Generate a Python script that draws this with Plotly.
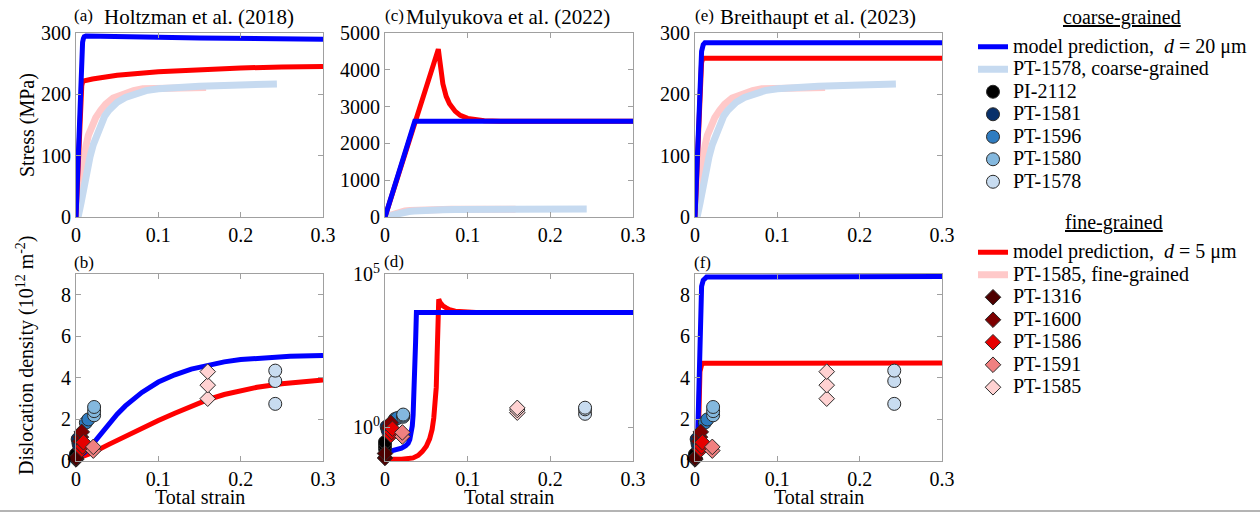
import plotly.graph_objects as go

W, H = 1260, 514
SERIF = "Liberation Serif, Times New Roman, Times, Nimbus Roman, DejaVu Serif, serif"

# ---------------- stress–strain curves (MPa) ----------------
# experimental curves (shared by the three upper panels)
exp_cg_strain = [0.0, 0.003, 0.006, 0.009, 0.013, 0.017, 0.021, 0.025, 0.029, 0.035, 0.04,
                 0.05, 0.06, 0.07, 0.085, 0.1, 0.12, 0.15, 0.19, 0.22, 0.244]
exp_cg_stress = [0, 3, 22, 45, 72, 98, 118, 133, 150, 165, 174,
                 187, 195, 200, 206, 209, 211, 213, 215, 217, 217]
exp_fg_strain = [0.0, 0.002, 0.004, 0.006, 0.0085, 0.012, 0.015, 0.0186, 0.024, 0.03, 0.036,
                 0.045, 0.057, 0.07, 0.081, 0.1, 0.12, 0.14, 0.158]
exp_fg_stress = [0, 15, 40, 62, 92, 115, 133, 147, 162, 174, 184,
                 194, 201, 206, 209, 210, 211, 211, 211]

# (a) Holtzman et al. (2018) model
holtz_cg_strain = [0, 0.002, 0.004, 0.006, 0.007, 0.008, 0.009, 0.01, 0.012, 0.02, 0.05,
                   0.1, 0.15, 0.2, 0.25, 0.3]
holtz_cg_stress = [0, 80, 165, 245, 272, 285, 291, 294, 295, 295, 294,
                   293, 292, 291, 290.5, 290]
holtz_fg_strain = [0, 0.002, 0.004, 0.006, 0.007, 0.008, 0.01, 0.02, 0.05, 0.1,
                   0.15, 0.2, 0.25, 0.3]
holtz_fg_stress = [0, 75, 150, 200, 214, 220, 222, 225, 231, 237,
                   240.5, 243, 244.5, 245.5]

# (c) Mulyukova et al. (2022) model
muly_cg_strain = [0, 0.036, 0.3]
muly_cg_stress = [0, 2600, 2600]
muly_fg_strain = [0, 0.036, 0.05, 0.0645, 0.066, 0.068, 0.07, 0.074, 0.078, 0.085,
                  0.091, 0.1, 0.11, 0.12, 0.14, 0.3]
muly_fg_stress = [0, 2600, 3550, 4560, 4300, 3930, 3620, 3280, 3080, 2870,
                  2760, 2680, 2640, 2615, 2603, 2600]

# (e) Breithaupt et al. (2023) model
breit_cg_strain = [0, 0.002, 0.004, 0.006, 0.008, 0.01, 0.012, 0.3]
breit_cg_stress = [0, 75, 160, 235, 270, 281, 284, 284]
breit_fg_strain = [0, 0.002, 0.004, 0.006, 0.008, 0.0095, 0.3]
breit_fg_stress = [0, 70, 150, 225, 252, 259, 259]

# ---------------- dislocation density (10^12 m^-2) ----------------
holtz_cg_rho_strain = [0, 0.01, 0.02, 0.03, 0.04, 0.05, 0.06, 0.07, 0.08, 0.1, 0.12,
                       0.14, 0.16, 0.18, 0.2, 0.23, 0.26, 0.3]
holtz_cg_rho = [0.15, 0.4, 0.8, 1.3, 1.8, 2.25, 2.65, 3.0, 3.3, 3.8, 4.15,
                4.42, 4.62, 4.77, 4.88, 4.98, 5.04, 5.08]
holtz_fg_rho_strain = [0, 0.02, 0.04, 0.06, 0.08, 0.1, 0.12, 0.14, 0.16, 0.18, 0.2,
                       0.22, 0.25, 0.28, 0.3]
holtz_fg_rho = [0.1, 0.4, 0.8, 1.2, 1.6, 1.95, 2.3, 2.65, 2.95, 3.2, 3.4,
                3.55, 3.72, 3.84, 3.9]

muly_cg_rho_strain = [0, 0.01, 0.02, 0.025, 0.028, 0.03, 0.032, 0.033, 0.034, 0.035,
                      0.036, 0.037, 0.038, 0.3]
muly_cg_rho = [0.15, 0.17, 0.21, 0.25, 0.3, 0.4, 0.7, 1.1, 2.5, 10,
               60, 600, 5500, 5500]
muly_fg_rho_strain = [0, 0.02, 0.034, 0.04, 0.045, 0.05, 0.054, 0.057, 0.059, 0.061,
                      0.062, 0.063, 0.064, 0.065, 0.0665, 0.068, 0.07, 0.074, 0.078,
                      0.085, 0.094, 0.11, 0.3]
muly_fg_rho = [0.09, 0.09, 0.1, 0.12, 0.16, 0.24, 0.42, 0.85, 2, 9,
               20, 200, 3500, 15000, 12000, 10300, 9100, 7800, 6800,
               6100, 5750, 5550, 5500]

breit_cg_rho_strain = [0, 0.002, 0.003, 0.004, 0.005, 0.006, 0.008, 0.01, 0.014, 0.3]
breit_cg_rho = [0.15, 0.3, 0.8, 2.5, 5.5, 7.5, 8.4, 8.7, 8.85, 8.88]
breit_fg_rho_strain = [0, 0.003, 0.004, 0.005, 0.006, 0.008, 0.01, 0.3]
breit_fg_rho = [0.1, 0.3, 1.0, 3.0, 4.3, 4.62, 4.7, 4.72]

# measured samples: (name, strain, density, colour)
coarse_samples = [
    ("PI-2112", [0.0, 0.0, 0.0], [0.2, 0.26, 0.33], "#000000"),
    ("PT-1581", [0.002, 0.003, 0.004], [1.05, 0.85, 0.7], "#08306b"),
    ("PT-1596", [0.012, 0.015], [1.85, 2.0], "#2f7cc0"),
    ("PT-1580", [0.022, 0.022, 0.022], [2.2, 2.4, 2.6], "#84b8de"),
    ("PT-1578", [0.242, 0.242, 0.242], [2.75, 3.85, 4.35], "#c8dcf0"),
]
fine_samples = [
    ("PT-1316", [0.0, 0.0, 0.0], [0.075, 0.1, 0.14], "#4d0000"),
    ("PT-1600", [0.005, 0.006, 0.007], [0.95, 1.15, 1.4], "#7d0000"),
    ("PT-1586", [0.007, 0.008, 0.009], [0.55, 0.7, 0.9], "#e60000"),
    ("PT-1591", [0.021, 0.021], [0.5, 0.68], "#f08080"),
    ("PT-1585", [0.16, 0.16, 0.16], [3.0, 3.65, 4.3], "#ffd2d2"),
]

BLUE, RED = "#0000ff", "#ff0000"
EXP_BLUE, EXP_PINK = "#c6daf0", "#ffc9c9"

LABEL_CG_MODEL = "model prediction,  <i>d</i> = 20 μm"
LABEL_FG_MODEL = "model prediction,  <i>d</i> = 5 μm"


def lg(text):
    return f'<span style="font-size:20px">{text}</span>'


fig = go.Figure()

# panel axes: (x-axis id, y-axis id)
top_panels = [("x", "y"), ("x2", "y2"), ("x3", "y3")]
bot_panels = [("x4", "y4"), ("x5", "y5"), ("x6", "y6")]

stress_models = [
    (holtz_cg_strain, holtz_cg_stress, holtz_fg_strain, holtz_fg_stress),
    (muly_cg_strain, muly_cg_stress, muly_fg_strain, muly_fg_stress),
    (breit_cg_strain, breit_cg_stress, breit_fg_strain, breit_fg_stress),
]
rho_models = [
    (holtz_cg_rho_strain, holtz_cg_rho, holtz_fg_rho_strain, holtz_fg_rho),
    (muly_cg_rho_strain, muly_cg_rho, muly_fg_rho_strain, muly_fg_rho),
    (breit_cg_rho_strain, breit_cg_rho, breit_fg_rho_strain, breit_fg_rho),
]

for i, ((xa, ya), (cgx, cgy, fgx, fgy)) in enumerate(zip(top_panels, stress_models)):
    first = i == 0
    fig.add_trace(go.Scatter(x=exp_fg_strain, y=exp_fg_stress, mode="lines",
                             line=dict(color=EXP_PINK, width=7), xaxis=xa, yaxis=ya,
                             name=lg("PT-1585, fine-grained"), legend="legend2",
                             legendgroup="expfg", showlegend=first, legendrank=2))
    fig.add_trace(go.Scatter(x=exp_cg_strain, y=exp_cg_stress, mode="lines",
                             line=dict(color=EXP_BLUE, width=7), xaxis=xa, yaxis=ya,
                             name=lg("PT-1578, coarse-grained"), legend="legend",
                             legendgroup="expcg", showlegend=first, legendrank=2))
    fig.add_trace(go.Scatter(x=fgx, y=fgy, mode="lines", line=dict(color=RED, width=5),
                             xaxis=xa, yaxis=ya, name=lg(LABEL_FG_MODEL), legend="legend2",
                             legendgroup="modfg", showlegend=first, legendrank=1))
    fig.add_trace(go.Scatter(x=cgx, y=cgy, mode="lines", line=dict(color=BLUE, width=5),
                             xaxis=xa, yaxis=ya, name=lg(LABEL_CG_MODEL), legend="legend",
                             legendgroup="modcg", showlegend=first, legendrank=1))

for (xa, ya), (cgx, cgy, fgx, fgy) in zip(bot_panels, rho_models):
    fig.add_trace(go.Scatter(x=fgx, y=fgy, mode="lines", line=dict(color=RED, width=5),
                             xaxis=xa, yaxis=ya, legendgroup="modfg", showlegend=False))
    fig.add_trace(go.Scatter(x=cgx, y=cgy, mode="lines", line=dict(color=BLUE, width=5),
                             xaxis=xa, yaxis=ya, legendgroup="modcg", showlegend=False))

for i, (xa, ya) in enumerate(bot_panels):
    first = i == 0
    for k, (name, sx, sy, col) in enumerate(coarse_samples):
        fig.add_trace(go.Scatter(x=sx, y=sy, mode="markers", xaxis=xa, yaxis=ya,
                                 marker=dict(symbol="circle", size=13, color=col,
                                             line=dict(color="#2a2a2a", width=1)),
                                 cliponaxis=False, name=lg(name), legend="legend",
                                 legendgroup=name, showlegend=first, legendrank=3 + k))
    for k, (name, sx, sy, col) in enumerate(fine_samples):
        fig.add_trace(go.Scatter(x=sx, y=sy, mode="markers", xaxis=xa, yaxis=ya,
                                 marker=dict(symbol="diamond", size=12, color=col,
                                             line=dict(color="#2a2a2a", width=1)),
                                 cliponaxis=False, name=lg(name), legend="legend2",
                                 legendgroup=name, showlegend=first, legendrank=3 + k))


def px_x(p):
    return p / W


def px_y(p):
    return 1 - p / H


col_px = [(76, 323), (385, 633), (695, 942)]
top_px = (33, 217)
bot_px = (274, 461)

axis_common = dict(showline=True, linecolor="#a0a0a0", linewidth=1, mirror="ticks",
                   ticks="inside", ticklen=5, tickcolor="#a0a0a0", showgrid=False,
                   zeroline=False, tickfont=dict(family=SERIF, size=20, color="black"))

xt = dict(range=[0, 0.3], tickvals=[0, 0.1, 0.2, 0.3], ticktext=["0", "0.1", "0.2", "0.3"])

layout_axes = {}
for j, (l, r) in enumerate(col_px):
    top_id = "" if j == 0 else str(j + 1)
    bot_id = str(j + 4)
    layout_axes[f"xaxis{top_id}"] = dict(domain=[px_x(l), px_x(r)], anchor=f"y{top_id}", **xt, **axis_common)
    layout_axes[f"xaxis{bot_id}"] = dict(domain=[px_x(l), px_x(r)], anchor=f"y{bot_id}", **xt, **axis_common)

top_dom = [px_y(top_px[1]), px_y(top_px[0])]
bot_dom = [px_y(bot_px[1]), px_y(bot_px[0])]

layout_axes["yaxis"] = dict(domain=top_dom, anchor="x", range=[0, 300],
                            tickvals=[0, 100, 200, 300], **axis_common)
layout_axes["yaxis2"] = dict(domain=top_dom, anchor="x2", range=[0, 5000],
                             tickvals=[0, 1000, 2000, 3000, 4000, 5000], **axis_common)
layout_axes["yaxis3"] = dict(domain=top_dom, anchor="x3", range=[0, 300],
                             tickvals=[0, 100, 200, 300], **axis_common)
layout_axes["yaxis4"] = dict(domain=bot_dom, anchor="x4", range=[0, 9],
                             tickvals=[0, 2, 4, 6, 8], **axis_common)
layout_axes["yaxis5"] = dict(domain=bot_dom, anchor="x5", type="log", range=[-1.1, 5],
                             tickvals=[1, 100000], ticktext=["10<sup>0</sup>", "10<sup>5</sup>"],
                             **axis_common)
layout_axes["yaxis6"] = dict(domain=bot_dom, anchor="x6", range=[0, 9],
                             tickvals=[0, 2, 4, 6, 8], **axis_common)

annotations = []


def text(t, x, y, size=20, xanchor="center", angle=0):
    annotations.append(dict(text=t, x=px_x(x), y=px_y(y), xref="paper", yref="paper",
                            xanchor=xanchor, yanchor="middle", showarrow=False,
                            textangle=angle, font=dict(family=SERIF, size=size, color="black")))


titles = ["Holtzman et al. (2018)", "Mulyukova et al. (2022)", "Breithaupt et al. (2023)"]
for (l, r), t in zip(col_px, titles):
    text(t, (l + r) / 2 - 1, 16.5, size=21)
    text("Total strain", (l + r) / 2, 497, size=20)

for lab, x, y in [("(a)", 72, 15), ("(c)", 383, 15), ("(e)", 693, 15),
                  ("(b)", 72, 262), ("(d)", 382, 261), ("(f)", 692, 262)]:
    text(lab, x, y, size=17, xanchor="left")

text("Stress (MPa)", 27, 125, size=20, angle=-90)
text("Dislocation density (10<sup>12</sup> m<sup>-2</sup>)", 25, 355, size=20, angle=-90)

text("<u>coarse-grained</u>", 1122, 18, size=20)
text("<u>fine-grained</u>", 1114, 222.5, size=20)

legend_common = dict(xanchor="left", yanchor="top", bgcolor="rgba(0,0,0,0)", borderwidth=0,
                     font=dict(family=SERIF, size=15, color="black"), tracegroupgap=0,
                     traceorder="normal")

fig.update_layout(
    width=W, height=H,
    margin=dict(l=0, r=0, t=0, b=0, autoexpand=False),
    paper_bgcolor="white", plot_bgcolor="white",
    font=dict(family=SERIF, color="black"),
    legend=dict(x=px_x(973), y=px_y(30.5), **legend_common),
    legend2=dict(x=px_x(973), y=px_y(236), **legend_common),
    annotations=annotations,
    shapes=[dict(type="line", xref="paper", yref="paper", x0=0, x1=1,
                 y0=px_y(511), y1=px_y(511), line=dict(color="#b4b4b4", width=2))],
    **layout_axes,
)

fig.write_html("out.html")
